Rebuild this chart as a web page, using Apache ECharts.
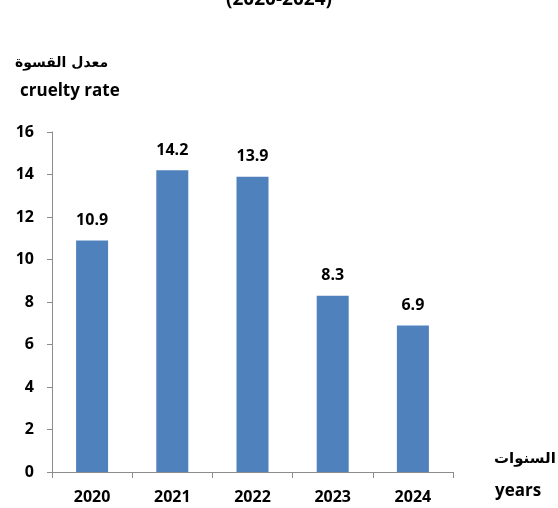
<!DOCTYPE html>
<html>
<head>
<meta charset="utf-8">
<script src="https://cdn.jsdelivr.net/npm/echarts@6/dist/echarts.min.js"></script>
<style>
  html, body { margin: 0; padding: 0; background: #fff; }
  #chart { width: 558px; height: 508px; }
</style>
</head>
<body>
<div id="chart"></div>
<script>
// data
var years = ['2020', '2021', '2022', '2023', '2024'];
var cruelty = [10.9, 14.2, 13.9, 8.3, 6.9];
var yTicks = { min: 0, max: 16, interval: 2 };

var font = '"Open Sans", "Noto Sans", sans-serif';
var chart = echarts.init(document.getElementById('chart'));

chart.setOption({
  animation: false,
  title: {
    text: '(2020-2024)',
    left: 'center',
    top: -15,
    textStyle: { fontFamily: font, fontSize: 19, fontWeight: 'bold', color: '#000' }
  },
  grid: { left: 52, right: 105, top: 132, bottom: 36, outerBoundsMode: 'none' },
  xAxis: {
    type: 'category',
    data: years,
    axisLine: { lineStyle: { color: '#8c8c8c', width: 1 } },
    axisTick: { show: true, length: 6, lineStyle: { color: '#8c8c8c' } },
    axisLabel: { margin: 17, fontFamily: font, fontSize: 16, fontWeight: 'bold', color: '#000' }
  },
  yAxis: {
    type: 'value',
    min: yTicks.min,
    max: yTicks.max,
    interval: yTicks.interval,
    splitLine: { show: false },
    axisLine: { show: true, lineStyle: { color: '#8c8c8c', width: 1 } },
    axisTick: { show: true, length: 5, lineStyle: { color: '#8c8c8c' } },
    axisLabel: { margin: 18, fontFamily: font, fontSize: 16, fontWeight: 'bold', color: '#000' }
  },
  graphic: [
    { type: 'text', left: 15, top: 56, style: { text: 'معدل القسوة', font: 'bold 14px "DejaVu Sans", sans-serif', fill: '#000' } },
    { type: 'text', left: 20, top: 83, style: { text: 'cruelty rate', font: 'bold 17px "Open Sans", sans-serif', fill: '#000' } },
    { type: 'text', left: 494, top: 452, style: { text: 'السنوات', font: 'bold 15px "DejaVu Sans", sans-serif', fill: '#000' } },
    { type: 'text', left: 495, top: 483, style: { text: 'years', font: 'bold 17px "Open Sans", sans-serif', fill: '#000' } }
  ],
  series: [{
    type: 'bar',
    data: cruelty,
    barWidth: 32,
    itemStyle: { color: '#4f81bd' },
    label: {
      show: true,
      position: 'top',
      distance: 12,
      fontFamily: font,
      fontSize: 16,
      fontWeight: 'bold',
      color: '#000'
    }
  }]
});
</script>
</body>
</html>
